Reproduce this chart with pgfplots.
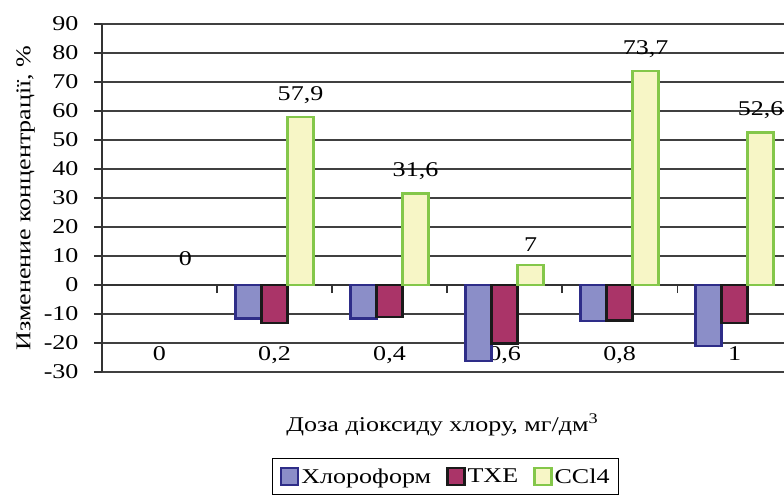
\documentclass[border=0pt]{standalone}
\usepackage{pgfplots}
\pgfplotsset{compat=1.18}
\usepackage{fontspec}
\setmainfont{Liberation Serif}[FakeStretch=1.24]

\definecolor{chlfill}{HTML}{8B8EC8}
\definecolor{chldraw}{HTML}{2E2D88}
\definecolor{tcefill}{HTML}{AA3468}
\definecolor{tcedraw}{HTML}{1A1A1A}
\definecolor{ccfill}{HTML}{F7F6C6}
\definecolor{ccdraw}{HTML}{84C74A}

\newcommand{\chartfont}{\fontsize{21}{25}\selectfont}

\begin{document}
\begin{tikzpicture}
\useasboundingbox (-102pt,-124pt) rectangle (682pt,372pt);
\begin{axis}[
  at={(0,0)}, anchor=south west,
  scale only axis,
  width=682pt, height=348pt,
  xmin=-0.5, xmax=5.43,
  ymin=-30, ymax=90,
  ytick={-30,-20,...,90},
  ymajorgrids,
  grid style={draw=black!75, line width=1.1pt},
  axis x line=middle,
  axis y line=left,
  axis line style={-, draw=black!80, line width=1.1pt},
  every inner x axis line/.append style={-},
  every outer y axis line/.append style={-},
  tick style={draw=black!80, line width=1.1pt},
  tick align=outside,
  major tick length=8pt,
  tick label style={font=\chartfont},
  label style={font=\chartfont},
  yticklabel style={xshift=-12pt},
  % category boundaries carry the tick marks
  xtick={0.5,1.5,2.5,3.5,4.5},
  xticklabels={},
  % category names sit low in the plot area, without marks
  extra x ticks={0,1,2,3,4,5},
  extra x tick labels={0,{0,2},{0,4},{0,6},{0,8},1},
  extra x tick style={major tick length=0pt, tick style={draw=none},
    xticklabel style={yshift=-58pt}},
  /pgf/number format/assume math mode=true,
  /pgf/number format/use comma,
  ybar, bar width=26pt,
  xlabel={Доза діоксиду хлору, мг/дм\textsuperscript{3}},
  x label style={at={(axis description cs:0.499,-0.152)}, anchor=center},
  ylabel={Изменение концентрації, \%},
  y label style={at={(axis description cs:-0.112,0.5)}, anchor=center, rotate=0},
  legend columns=-1,
  legend style={at={(axis description cs:0.504,-0.247)}, anchor=north,
    draw=black, line width=1.1pt, inner xsep=7pt, inner ysep=8pt, font=\chartfont,
    /tikz/every odd column/.append style={column sep=0pt},
    /tikz/every even column/.append style={column sep=13pt}},
  legend image code/.code={\draw[#1, line width=2.4pt] (0pt,-8pt) rectangle (17pt,9pt);},
  clip=false,
]
\addplot[fill=chlfill, draw=chldraw, line width=2.4pt, bar shift=-26pt]
  coordinates {(1,-11.5) (2,-11.5) (3,-26.3) (4,-12.5) (5,-21.0)};
\addplot[fill=tcefill, draw=tcedraw, line width=2.4pt, bar shift=0pt]
  coordinates {(1,-13.0) (2,-11.0) (3,-20.2) (4,-12.2) (5,-13.0)};
\addplot[fill=ccfill, draw=ccdraw, line width=2.4pt, bar shift=26pt,
  nodes near coords,
  every node near coord/.append style={yshift=9pt, font=\chartfont}]
  coordinates {(1,57.9) (2,31.6) (3,7) (4,73.7) (5,52.6)};
% zero value at the first dose: only its label is visible
\addplot[draw=none, fill=none, bar shift=26pt, forget plot,
  nodes near coords,
  every node near coord/.append style={yshift=16pt, font=\chartfont}]
  coordinates {(0,0)};
\legend{Хлороформ,ТХЕ,CCl4}
\end{axis}
\end{tikzpicture}
\end{document}
